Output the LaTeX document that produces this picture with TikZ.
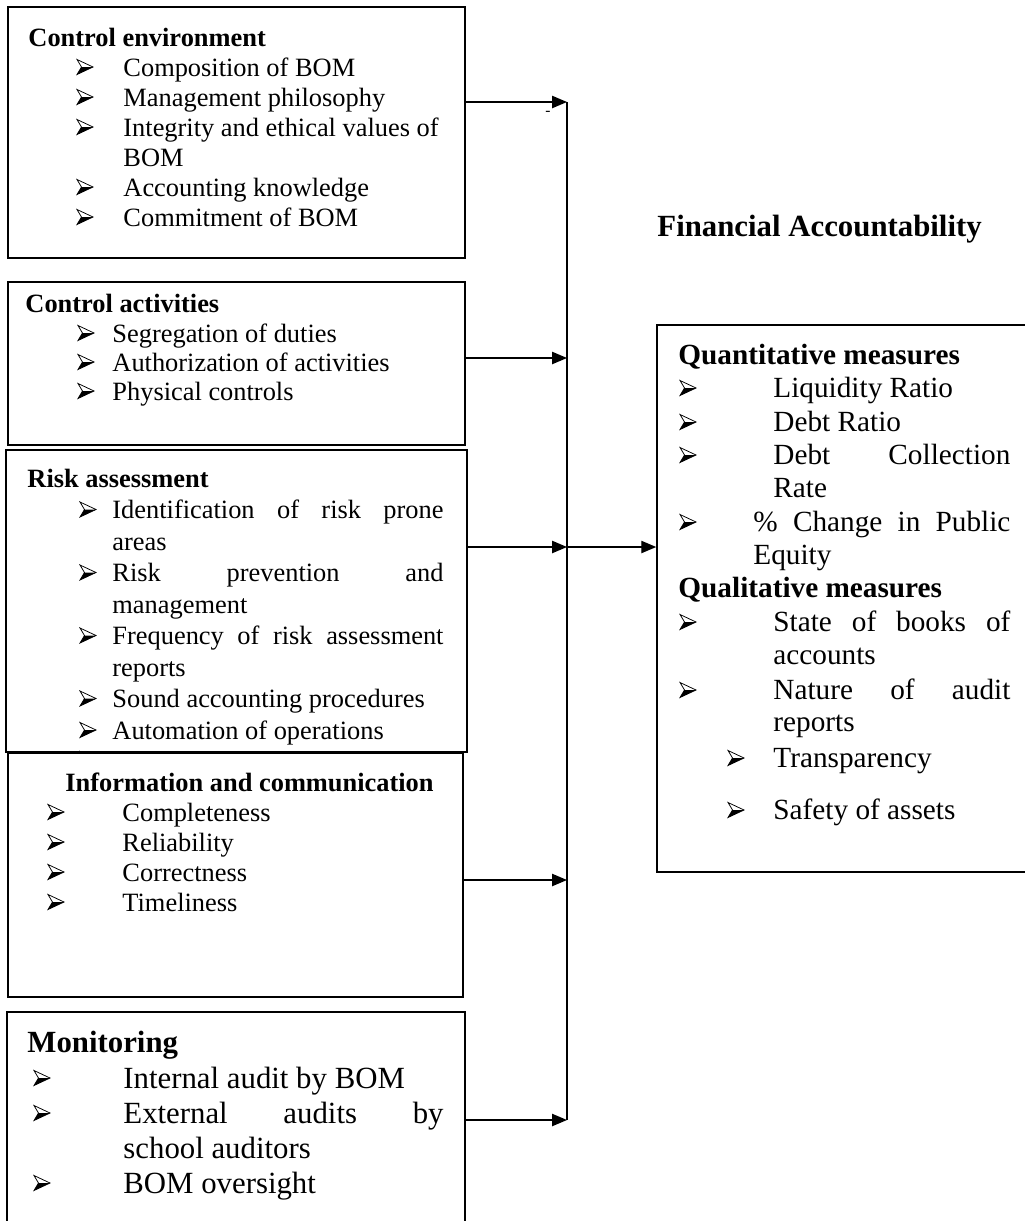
\documentclass[tikz,border=0pt]{standalone}
\usepackage{fontspec}
\setmainfont{Liberation Serif}
\usetikzlibrary{arrows.meta,fit}
\newcommand{\jl}[2]{\makebox[#1][s]{#2}}
\begin{document}
\begin{tikzpicture}[x=0.4545pt, y=-0.4545pt,
  box/.style={draw, line width=0.7pt, inner sep=0pt},
  t/.style={anchor=base west, inner sep=0pt, font=\fontsize{12}{14}\selectfont},
  th/.style={anchor=base west, inner sep=0pt, font=\fontsize{12}{14}\selectfont\bfseries},
  rt/.style={anchor=base west, inner sep=0pt, font=\fontsize{13.3}{16}\selectfont},
  rth/.style={anchor=base west, inner sep=0pt, font=\fontsize{13.3}{16}\selectfont\bfseries},
  mt/.style={anchor=base west, inner sep=0pt, font=\fontsize{14}{17}\selectfont},
  mth/.style={anchor=base west, inner sep=0pt, font=\fontsize{14}{17}\selectfont\bfseries},
  arr/.style={line width=0.6pt, -{Triangle[length=6.8pt,width=5.6pt]}},
  vline/.style={line width=0.6pt},
  bul/.pic={
    \fill (4.5,0) -- (16,0) -- (0,7.5) -- cycle;
    \draw[line width=0.35pt, line join=miter] (0,-7.5) -- (16,0) -- (0,7.5) -- (4.5,0) -- cycle;
  }]
\useasboundingbox (0,0) rectangle (1024,1221);

% ---------- Box 1: Control environment ----------
\node[box, fit={(8,7) (465,258)}] (b1) {};
\node[th] (b1h) at (28,46) {Control environment};
\foreach \c in {67,97,127,187,217} {\pic at (77,\c) {bul};}
\node[t] (b1i1) at (123,76) {Composition of BOM};
\node[t] (b1i2) at (123,106) {Management philosophy};
\node[t] (b1i3) at (123,136) {Integrity and ethical values of};
\node[t] (b1i3b) at (123,166) {BOM};
\node[t] (b1i4) at (123,196) {Accounting knowledge};
\node[t] (b1i5) at (123,226) {Commitment of BOM};

% ---------- Box 2: Control activities ----------
\node[box, fit={(8,282) (465,445)}] (b2) {};
\node[th] (b2h) at (25,312) {Control activities};
\foreach \c in {333,362,391} {\pic at (78,\c) {bul};}
\node[t] (b2i1) at (112,342) {Segregation of duties};
\node[t] (b2i2) at (112,371) {Authorization of activities};
\node[t] (b2i3) at (112,400) {Physical controls};

% ---------- Box 3: Risk assessment ----------
\node[box, fit={(6,450) (467,752)}] (b3) {};
\node[th] (b3h) at (27,487) {Risk assessment};
\foreach \c in {509.5,572.5,635.5,698.5,730} {\pic at (80,\c) {bul};}
\node[t] (b3i1) at (112,518.5) {\jl{150.5pt}{Identification of risk prone}};
\node[t] (b3i1b) at (112,550) {areas};
\node[t] (b3i2) at (112,581.5) {\jl{150.5pt}{Risk prevention and}};
\node[t] (b3i2b) at (112,613) {management};
\node[t] (b3i3) at (112,644.5) {\jl{150.5pt}{Frequency of risk assessment}};
\node[t] (b3i3b) at (112,676) {reports};
\node[t] (b3i4) at (112,707.5) {Sound accounting procedures};
\node[t] (b3i5) at (112,739) {Automation of operations};
\begin{scope}
  \clip (60,740) rectangle (120,752);
  \pic at (80,759) {bul};
\end{scope}

% ---------- Box 4: Information and communication ----------
\node[box, fill=white, fit={(8,753) (463,997)}] (b4) {};
\node[th] (b4h) at (65,791) {Information and communication};
\foreach \c in {812,842,872,902} {\pic at (48,\c) {bul};}
\node[t] (b4i1) at (122,821) {Completeness};
\node[t] (b4i2) at (122,851) {Reliability};
\node[t] (b4i3) at (122,881) {Correctness};
\node[t] (b4i4) at (122,911) {Timeliness};

% ---------- Box 5: Monitoring ----------
\node[box, fit={(7,1012) (465,1245)}] (b5) {};
\node[mth] (b5h) at (27,1052) {Monitoring};
\foreach \c in {1078,1113,1183} {\pic at (34,\c) {bul};}
\node[mt] (b5i1) at (123,1088) {Internal audit by BOM};
\node[mt] (b5i2) at (123,1123) {\jl{145.5pt}{External audits by}};
\node[mt] (b5i2b) at (123,1158) {school auditors};
\node[mt] (b5i3) at (123,1193) {BOM oversight};

% ---------- Title ----------
\node[mth] (title) at (657,236) {Financial Accountability};

% ---------- Right box: measures ----------
\node[box, fit={(657,325) (1045,872)}] (rb) {};
\node[rth] (rbq) at (678,364.5) {Quantitative measures};
\foreach \c in {388,422,455,522,622,690} {\pic at (680,\c) {bul};}
\node[rt] (rq1) at (773,397.5) {Liquidity Ratio};
\node[rt] (rq2) at (773,431.5) {Debt Ratio};
\node[rt] (rq3) at (773,464.5) {\jl{107.7pt}{Debt Collection}};
\node[rt] (rq3b) at (773,497.5) {Rate};
\node[rt] (rq4) at (753,531.5) {\jl{116.8pt}{\% Change in Public}};
\node[rt] (rq4b) at (753,564.5) {Equity};
\node[rth] (rbl) at (678,597.5) {Qualitative measures};
\node[rt] (rl1) at (773,631.5) {\jl{107.7pt}{State of books of}};
\node[rt] (rl1b) at (773,664.5) {accounts};
\node[rt] (rl2) at (773,699.5) {\jl{107.7pt}{Nature of audit}};
\node[rt] (rl2b) at (773,731.5) {reports};
\foreach \c in {758,810} {\pic at (728,\c) {bul};}
\node[rt] (rl3) at (773,767.5) {Transparency};
\node[rt] (rl4) at (773,819.5) {Safety of assets};

% ---------- Connectors ----------
\coordinate (j1) at (567,102);
\coordinate (j2) at (567,358);
\coordinate (j3) at (567,547);
\coordinate (j4) at (567,880);
\coordinate (j5) at (567,1120);
\draw[vline] (j1) -- (j5);
\draw[arr] (b1.east |- j1) -- (j1);
\draw[arr] (b2.east |- j2) -- (j2);
\draw[arr] (b3.east |- j3) -- (j3);
\draw[arr] (b4.east |- j4) -- (j4);
\draw[arr] (b5.east |- j5) -- (j5);
\draw[arr] (j3) -- (rb.west |- j3);
\node[inner sep=0pt, font=\fontsize{7}{8}\selectfont] (tick) at (548,113) {-};
\end{tikzpicture}
\end{document}
